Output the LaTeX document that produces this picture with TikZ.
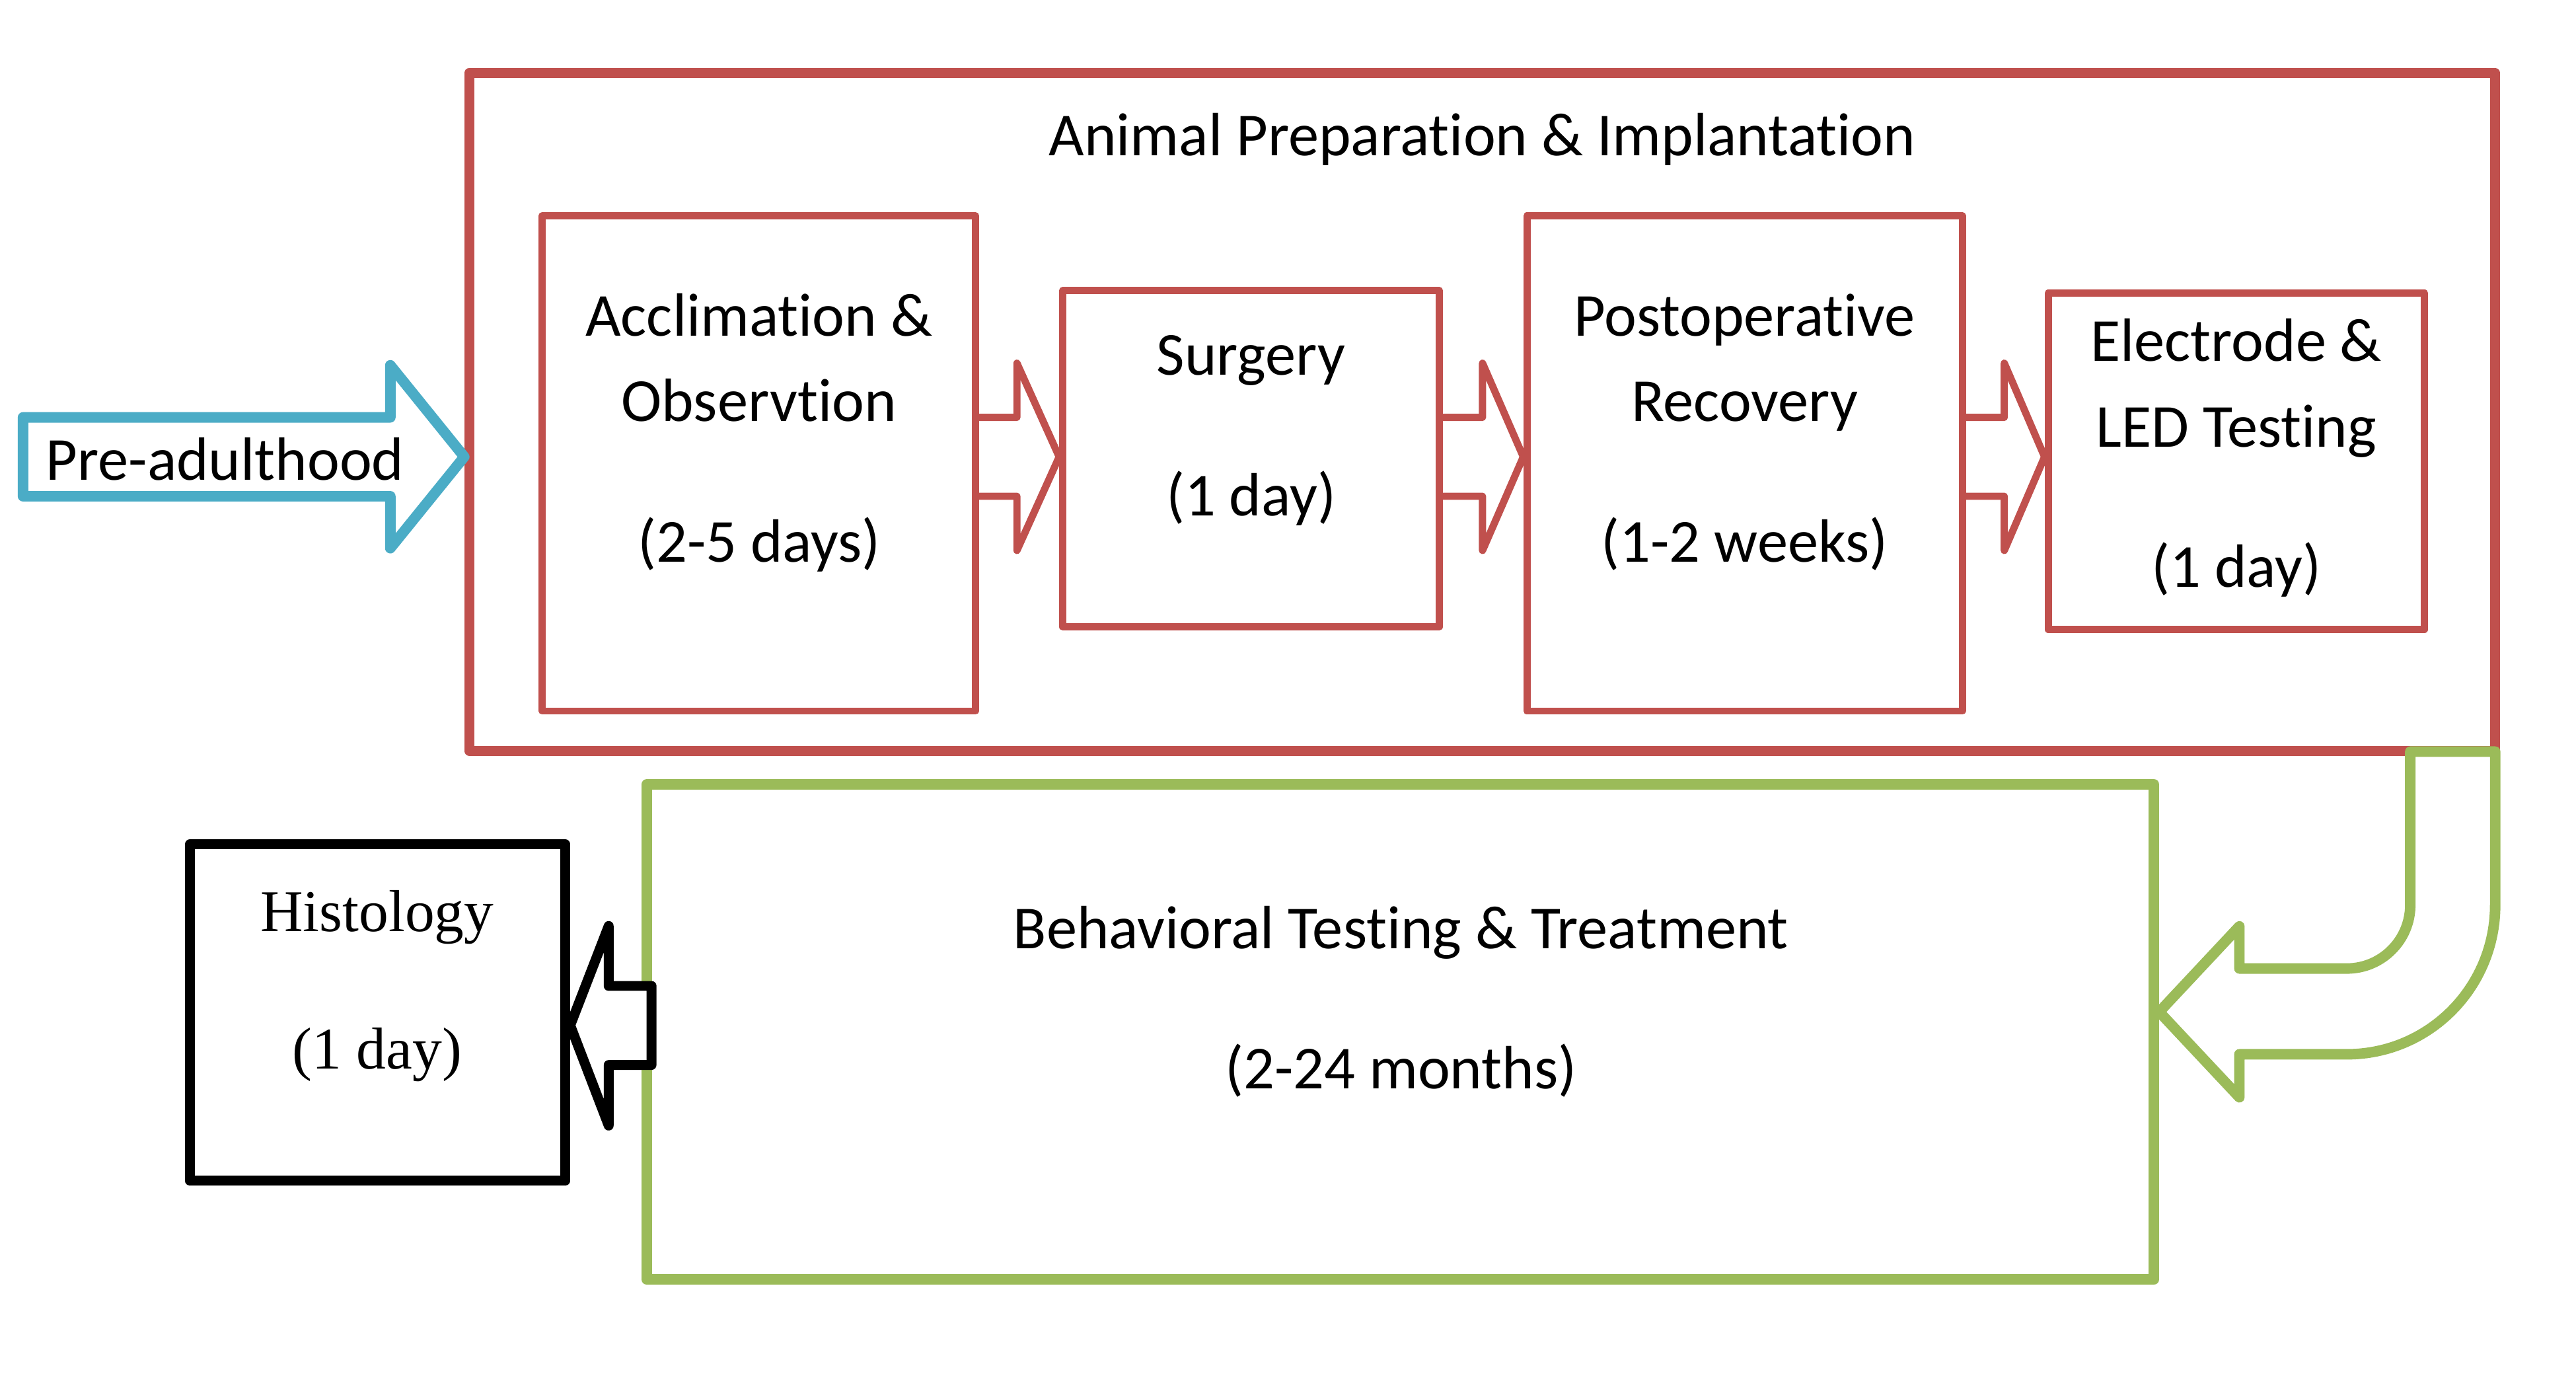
\documentclass[tikz,border=0pt]{standalone}
\usepackage{fontspec}
\setmainfont{Carlito}[Ligatures=NoCommon]
\newfontfamily\histfont{Liberation Serif}
\usetikzlibrary{fit,calc}
\definecolor{redc}{HTML}{C0504D}
\definecolor{tealc}{HTML}{4BACC6}
\definecolor{greenc}{HTML}{9BBB59}
\begin{document}
\begin{tikzpicture}[x=0.5pt,y=-0.5pt,line join=round,
  outerbox/.style={draw=redc,line width=3pt,inner sep=0pt},
  stagebox/.style={draw=redc,line width=2.2pt,inner sep=0pt},
  redblock/.style={draw=redc,line width=2.2pt},
  tealblock/.style={draw=tealc,fill=white,line width=3.2pt},
  greenbox/.style={draw=greenc,line width=3.2pt,inner sep=0pt},
  greenblock/.style={draw=greenc,fill=white,line width=3.2pt},
  blackbox/.style={draw=black,line width=3pt,inner sep=0pt},
  blackblock/.style={draw=black,fill=white,line width=3pt},
  lbl/.style={anchor=base,inner sep=0pt,font=\fontsize{18.6}{22}\selectfont},
  hlbl/.style={anchor=base,inner sep=0pt,font=\histfont\fontsize{18}{21}\selectfont}]
\useasboundingbox (0,0) rectangle (1568,847.7);
% y levels
\coordinate (yb1) at (0,254);
\coordinate (yb2) at (0,302);
\coordinate (ytip) at (0,278);
% boxes
\node[outerbox,fit={(285.6,44.3) (1518.8,456.9)}] (outer) {};
\node[stagebox,fit={(330,131.3) (593.8,432.7)}] (A) {};
\node[stagebox,fit={(646.9,176.8) (876,381.5)}] (S) {};
\node[stagebox,fit={(929.4,131.3) (1194.4,432.7)}] (P) {};
\node[stagebox,fit={(1246.7,178.4) (1475.8,383.1)}] (E) {};
% red block arrows
\draw[redblock] (A.east |- yb1) -- (619,254) -- (619,221) -- (S.west |- ytip) -- (619,335) -- (619,302) -- (A.east |- yb2);
\draw[redblock] (S.east |- yb1) -- (902.4,254) -- (902.4,221) -- (P.west |- ytip) -- (902.4,335) -- (902.4,302) -- (S.east |- yb2);
\draw[redblock] (P.east |- yb1) -- (1220,254) -- (1220,221) -- (E.west |- ytip) -- (1220,335) -- (1220,302) -- (P.east |- yb2);
% pre-adulthood arrow
\coordinate (pstart) at (14,278);
\draw[tealblock] (pstart |- yb1) -- (237.6,254) -- (237.6,222.3) -- (outer.west |- ytip) -- (237.6,333.6) -- (237.6,302) -- (pstart |- yb2) -- cycle;
% green box
\node[greenbox,fit={(393.6,477.4) (1311.1,778.6)}] (G) {};
% green bent arrow, leaving the outer box at its lower right corner
\coordinate (gstart) at (1467.1,457.4);
\coordinate (gcorner) at (1518.8,457.4);
\coordinate (gtip) at (0,615.8);
\draw[greenblock] (gstart) -- (gcorner) -- (1518.8,550.7)
  .. controls (1518.8,600.9) and (1478.5,641.6) .. (1428.5,641.6)
  -- (1363.1,641.6) -- (1363.1,667.8) -- (G.east |- gtip) -- (1363.1,563.7) -- (1363.1,589.4)
  -- (1428.5,589.4) .. controls (1449.8,589.4) and (1467.1,572.1) .. (1467.1,550.7) -- cycle;
% histology box
\node[blackbox,fit={(115.5,513.9) (344.1,718.6)}] (H) {};
\coordinate (btip) at (0,624);
\draw[blackblock] (396.6,600) -- (370.5,600) -- (370.5,563.5) -- (H.east |- btip) -- (370.5,685) -- (370.5,648.1) -- (396.6,648.1) -- cycle;
% texts
\node[lbl] (title) at (902.2,94.7) {Animal Preparation \& Implantation};
\node[lbl] (a1) at (462,204.6) {Acclimation \&};
\node[lbl] (a2) at (462,256.3) {Observtion};
\node[lbl] (a3) at (462,341.9) {(2-5 days)};
\node[lbl] (s1) at (761.5,228.3) {Surgery};
\node[lbl] (s2) at (761.5,313.7) {(1 day)};
\node[lbl] (p1) at (1061.9,204.6) {Postoperative};
\node[lbl] (p2) at (1061.9,256.3) {Recovery};
\node[lbl] (p3) at (1061.9,341.9) {(1-2 weeks)};
\node[lbl] (e1) at (1361.2,219.9) {Electrode \&};
\node[lbl] (e2) at (1361.2,271.9) {LED Testing};
\node[lbl] (e3) at (1361.2,357.2) {(1 day)};
\node[lbl] (pre) at (137,292.3) {Pre-adulthood};
\node[lbl] (g1) at (852.7,577.2) {Behavioral Testing \& Treatment};
\node[lbl] (g2) at (852.7,662.5) {(2-24 months)};
\node[hlbl] (h1) at (229.6,567) {Histology};
\node[hlbl] (h2) at (229.6,650.4) {(1 day)};
\end{tikzpicture}
\end{document}
